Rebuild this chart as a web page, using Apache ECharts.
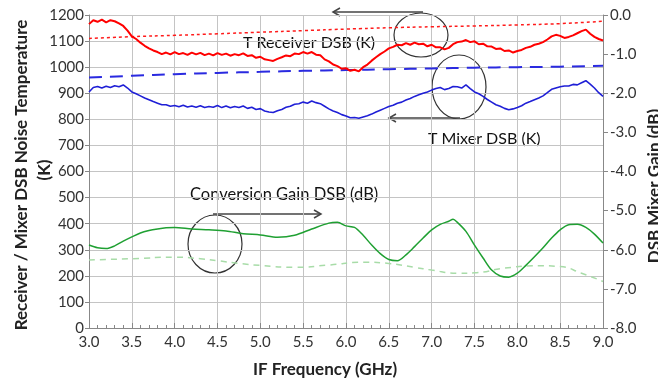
<!DOCTYPE html>
<html>
<head>
<meta charset="utf-8">
<script src="https://cdn.jsdelivr.net/npm/echarts@6/dist/echarts.min.js"></script>
<style>
  html, body { margin: 0; padding: 0; background: #fff; }
  #chart { width: 658px; height: 380px; }
</style>
</head>
<body>
<div id="chart"></div>
<script>
// IF frequency grid (GHz), 0.05 step for the measured temperature curves
var freqs = [];
for (var i = 0; i <= 120; i++) freqs.push(+(3 + i * 0.05).toFixed(2));

// T Receiver DSB (K), measured
var receiverK = [
  1165, 1180, 1174, 1182, 1172, 1180, 1176, 1168, 1158, 1140, 1118, 1108, 1094, 1082, 1072, 1064, 1058, 1050, 1056, 1049,
  1058, 1050, 1054, 1047, 1056, 1049, 1055, 1046, 1052, 1045, 1054, 1047, 1052, 1044, 1050, 1046, 1053, 1043, 1046, 1036,
  1040, 1030, 1027, 1024, 1032, 1038, 1045, 1042, 1052, 1050, 1058, 1052, 1058, 1048, 1046, 1030, 1022, 1010, 1004, 994,
  996, 986, 990, 984, 1000, 1010, 1025, 1038, 1050, 1060, 1072, 1078, 1086, 1084, 1092, 1086, 1094, 1088, 1090, 1080,
  1086, 1076, 1076, 1068, 1074, 1088, 1096, 1098, 1104, 1096, 1099, 1088, 1090, 1080, 1079, 1070, 1072, 1062, 1064, 1056,
  1062, 1066, 1074, 1078, 1086, 1090, 1096, 1106, 1118, 1124, 1120, 1112, 1116, 1122, 1130, 1138, 1144, 1128, 1116, 1108,
  1102];

// T Mixer DSB (K), measured
var mixerK = [
  905, 922, 926, 920, 927, 922, 929, 925, 932, 920, 905, 898, 890, 882, 875, 868, 862, 856, 856, 850,
  853, 848, 854, 847, 851, 846, 852, 845, 849, 846, 853, 845, 851, 844, 849, 845, 851, 842, 846, 838,
  841, 832, 828, 826, 833, 838, 846, 850, 858, 860, 866, 862, 870, 864, 860, 850, 840, 832, 826, 818,
  813, 806, 807, 804, 809, 814, 820, 828, 835, 842, 849, 854, 862, 866, 874, 880, 888, 894, 900, 905,
  912, 918, 922, 914, 918, 926, 925, 920, 932, 918, 905, 898, 888, 876, 866, 856, 850, 842, 837, 840,
  845, 852, 862, 868, 875, 882, 890, 902, 915, 920, 925, 928, 928, 934, 932, 940, 948, 935, 920, 902,
  888];

// Conversion Gain DSB (dB), measured
var gainFreq = [3.0, 3.1, 3.2, 3.3, 3.4, 3.5, 3.6, 3.7, 3.8, 3.9, 4.0, 4.2, 4.4, 4.6, 4.8,
  5.0, 5.2, 5.4, 5.6, 5.8, 5.9, 6.0, 6.1, 6.2, 6.3, 6.4, 6.5, 6.6, 6.7, 6.8, 6.9,
  7.0, 7.1, 7.2, 7.25, 7.3, 7.4, 7.5, 7.6, 7.7, 7.8, 7.9, 8.0, 8.1, 8.2, 8.3, 8.4,
  8.5, 8.6, 8.7, 8.8, 8.9, 9.0];
var gainDb = [-5.88, -5.95, -5.97, -5.90, -5.78, -5.67, -5.57, -5.51, -5.47, -5.44, -5.43, -5.47, -5.49, -5.52, -5.59,
  -5.62, -5.68, -5.63, -5.47, -5.32, -5.30, -5.39, -5.43, -5.63, -5.88, -6.10, -6.25, -6.28, -6.13, -5.92, -5.70,
  -5.49, -5.35, -5.27, -5.22, -5.30, -5.53, -5.88, -6.21, -6.52, -6.67, -6.70, -6.60, -6.40, -6.18, -5.95, -5.70,
  -5.49, -5.36, -5.35, -5.43, -5.60, -5.83];

// simulated curves (dashed)
var simFreq = [3.0, 3.5, 4.0, 4.5, 5.0, 5.5, 6.0, 6.5, 7.0, 7.5, 8.0, 8.5, 9.0];
var simReceiverK = [1110, 1117, 1122, 1128, 1134, 1140, 1146, 1151, 1155, 1158, 1162, 1167, 1176];
var simMixerK = [960, 967, 973, 978, 982, 986, 989, 992, 995, 998, 1000, 1002, 1005];
var simGainFreq = [3.0, 3.5, 4.0, 4.3, 4.5, 4.75, 5.0, 5.4, 5.8, 6.2, 6.5, 6.8, 7.0, 7.3, 7.5, 7.85, 8.25, 8.5, 8.75, 9.0];
var simGainDb = [-6.26, -6.23, -6.19, -6.23, -6.28, -6.35, -6.40, -6.45, -6.39, -6.32, -6.35, -6.45, -6.52, -6.60, -6.59, -6.47, -6.41, -6.43, -6.60, -6.81];

function pairs(xs, ys) {
  return xs.map(function (x, i) { return [x, ys[i]]; });
}

var FONT = "Lato";
var myChart = echarts.init(document.getElementById("chart"));

var option = {
  animation: false,
  textStyle: { fontFamily: FONT },
  grid: { left: 89, right: 55, top: 15, bottom: 52 },
  xAxis: {
    type: "value",
    min: 3, max: 9, interval: 0.5,
    axisLine: { lineStyle: { color: "#888" } },
    axisTick: { inside: true, length: 5, lineStyle: { color: "#888" } },
    minorTick: { show: true, splitNumber: 5, length: 3, lineStyle: { color: "#888" } },
    axisLabel: { fontSize: 15, color: "#333", margin: 7, formatter: function (v) { return v.toFixed(1); } },
    splitLine: { show: true, lineStyle: { color: "#c4c4c4" } }
  },
  yAxis: [
    {
      type: "value",
      min: 0, max: 1200, interval: 100,
      axisLine: { show: true, lineStyle: { color: "#888" } },
      axisTick: { show: true, length: 4, lineStyle: { color: "#888" } },
      axisLabel: { fontSize: 15, color: "#333", margin: 5, formatter: function (v) { return String(v); } },
      splitLine: { show: true, lineStyle: { color: "#c4c4c4" } }
    },
    {
      type: "value",
      min: -8, max: 0, interval: 1,
      position: "right",
      axisLine: { show: true, lineStyle: { color: "#888" } },
      axisTick: { show: true, length: 5, lineStyle: { color: "#888" } },
      axisLabel: { fontSize: 15, color: "#333", margin: 7, formatter: function (v) { return v.toFixed(1); } },
      splitLine: { show: false }
    }
  ],
  series: [
    {
      name: "T Receiver DSB sim", type: "line", yAxisIndex: 0, symbol: "none", smooth: true,
      data: pairs(simFreq, simReceiverK),
      lineStyle: { color: "#ff1a1a", width: 1.5, type: [3, 3] }
    },
    {
      name: "T Mixer DSB sim", type: "line", yAxisIndex: 0, symbol: "none", smooth: true,
      data: pairs(simFreq, simMixerK),
      lineStyle: { color: "#2a2ae0", width: 2, type: [13, 8] }
    },
    {
      name: "Conversion Gain sim", type: "line", yAxisIndex: 1, symbol: "none", smooth: true,
      data: pairs(simGainFreq, simGainDb),
      lineStyle: { color: "#a8dca8", width: 1.5, type: [6, 5] }
    },
    {
      name: "T Receiver DSB (K)", type: "line", yAxisIndex: 0, symbol: "none",
      data: pairs(freqs, receiverK),
      lineStyle: { color: "#ff0000", width: 2 }
    },
    {
      name: "T Mixer DSB (K)", type: "line", yAxisIndex: 0, symbol: "none",
      data: pairs(freqs, mixerK),
      lineStyle: { color: "#1f1fd6", width: 1.6 }
    },
    {
      name: "Conversion Gain DSB (dB)", type: "line", yAxisIndex: 1, symbol: "none", smooth: 0.3,
      data: pairs(gainFreq, gainDb),
      lineStyle: { color: "#1fa032", width: 1.5 }
    }
  ],
  graphic: [
    // axis titles
    {
      type: "group", x: 22, y: 175, rotation: Math.PI / 2,
      children: [
        { type: "text", style: { text: "Receiver / Mixer DSB Noise Temperature", font: "bold 17px " + FONT, fill: "#222", align: "center", verticalAlign: "middle" } },
        { type: "text", y: 23, x: 5, style: { text: "(K)", font: "bold 17px " + FONT, fill: "#222", align: "center", verticalAlign: "middle" } }
      ]
    },
    {
      type: "text", x: 655, y: 186, rotation: Math.PI / 2,
      style: { text: "DSB Mixer Gain (dB)", font: "bold 17px " + FONT, fill: "#222", align: "center", verticalAlign: "middle" }
    },
    {
      type: "text", x: 325, y: 370,
      style: { text: "IF Frequency (GHz)", font: "bold 17px " + FONT, fill: "#222", align: "center", verticalAlign: "middle" }
    },
    // annotations
    { type: "text", x: 243, y: 43, style: { text: "T Receiver DSB (K)", font: "16px " + FONT, fill: "#111", verticalAlign: "middle" } },
    { type: "text", x: 428, y: 139, style: { text: "T Mixer DSB (K)", font: "16px " + FONT, fill: "#111", verticalAlign: "middle" } },
    { type: "text", x: 190, y: 195, style: { text: "Conversion Gain DSB (dB)", font: "16.5px " + FONT, fill: "#111", verticalAlign: "middle" } },
    { type: "ellipse", shape: { cx: 421, cy: 35, rx: 27, ry: 22 }, style: { fill: "none", stroke: "#333", lineWidth: 1.2 } },
    { type: "ellipse", shape: { cx: 459, cy: 87, rx: 27, ry: 32 }, style: { fill: "none", stroke: "#333", lineWidth: 1.2 } },
    { type: "ellipse", shape: { cx: 215, cy: 244, rx: 27, ry: 29 }, style: { fill: "none", stroke: "#333", lineWidth: 1.2 } },
    // arrows
    { type: "line", shape: { x1: 423, y1: 12, x2: 333, y2: 12 }, style: { stroke: "#444", lineWidth: 1.5 } },
    { type: "polyline", shape: { points: [[340, 8], [333, 12], [340, 16]] }, style: { fill: "none", stroke: "#444", lineWidth: 1.5 } },
    { type: "line", shape: { x1: 460, y1: 118, x2: 389, y2: 118 }, style: { stroke: "#444", lineWidth: 1.5 } },
    { type: "polyline", shape: { points: [[396, 114], [389, 118], [396, 122]] }, style: { fill: "none", stroke: "#444", lineWidth: 1.5 } },
    { type: "line", shape: { x1: 213, y1: 214, x2: 321, y2: 214 }, style: { stroke: "#444", lineWidth: 1.5 } },
    { type: "polyline", shape: { points: [[314, 210], [321, 214], [314, 218]] }, style: { fill: "none", stroke: "#444", lineWidth: 1.5 } }
  ]
};

myChart.setOption(option);
</script>
</body>
</html>
